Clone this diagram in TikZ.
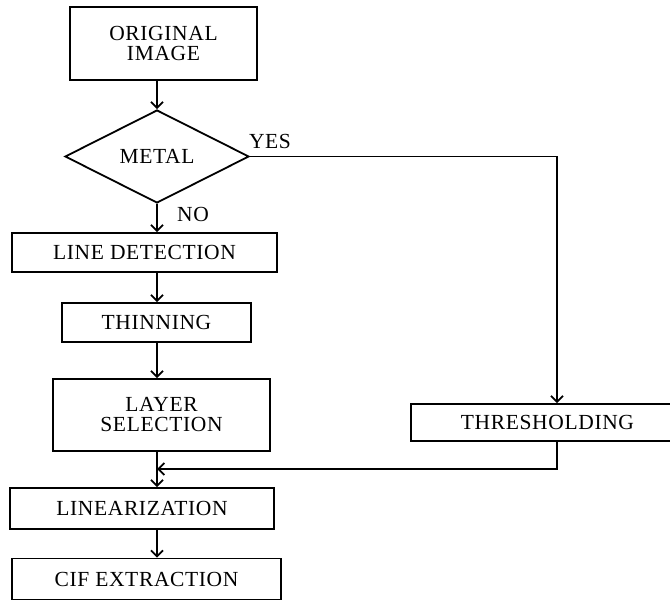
\documentclass[tikz,border=0pt]{standalone}
\usepackage{fontspec}
\setmainfont{Liberation Serif}[LetterSpace=3]
\usetikzlibrary{arrows.meta,shapes.geometric}
\begin{document}
\begin{tikzpicture}[x=1pt,y=-1pt,
  every node/.style={font=\fontsize{21.5}{20}\selectfont},
  box/.style={draw, line width=1.8pt, inner sep=0pt, align=center},
  decision/.style={draw, diamond, line width=1.8pt, inner sep=0pt},
  flow/.style={line width=1.8pt, -{Straight Barb[length=6pt,width=12pt,line width=1.8pt]}},
  tag/.style={inner sep=0pt}]
\clip (0,0) rectangle (670,601);

% process boxes along the main spine
\node[box, minimum width=187, minimum height=73] (orig) at (163.5,43.5) {ORIGINAL\\IMAGE};
\node[decision, minimum width=184, minimum height=93] (metal) at (157,156.5) {METAL};
\node[box, minimum width=265, minimum height=39] (line) at (144.5,252.5) {LINE DETECTION};
\node[box, minimum width=189, minimum height=39] (thin) at (156.5,322.5) {THINNING};
\node[box, minimum width=217, minimum height=72] (layer) at (161.5,415) {LAYER\\SELECTION};
\node[box, minimum width=264, minimum height=41] (lin) at (142,508.5) {LINEARIZATION};
\node[box, minimum width=269, minimum height=41] (cif) at (146.5,579) {CIF EXTRACTION};

% side branch (runs off the right edge)
\node[box, minimum width=273, minimum height=37] (thr) at (547.5,422.5) {THRESHOLDING};

% branch labels
\node[tag] (yes) at (270,141) {YES};
\node[tag] (no) at (193,214) {NO};

% routing points
\coordinate (yesdrop) at (557,157);
\coordinate (merge) at (157,469);

% main spine
\draw[flow] (orig.south -| metal.north) -- (metal.north);
\draw[flow] (metal.south) -- (metal.south |- line.north);
\draw[flow] (line.south -| metal.south) -- (thin.north -| metal.south);
\draw[flow] (thin.south -| metal.south) -- (layer.north -| metal.south);
\draw[flow] (layer.south -| metal.south) -- (lin.north -| metal.south);
\draw[flow] (lin.south -| metal.south) -- (cif.north -| metal.south);

% YES branch and return
\draw[flow] (metal.east) -- (metal.east -| yesdrop) -- (yesdrop |- thr.north);
\draw[flow] (thr.south -| yesdrop) |- (merge);
\end{tikzpicture}
\end{document}
